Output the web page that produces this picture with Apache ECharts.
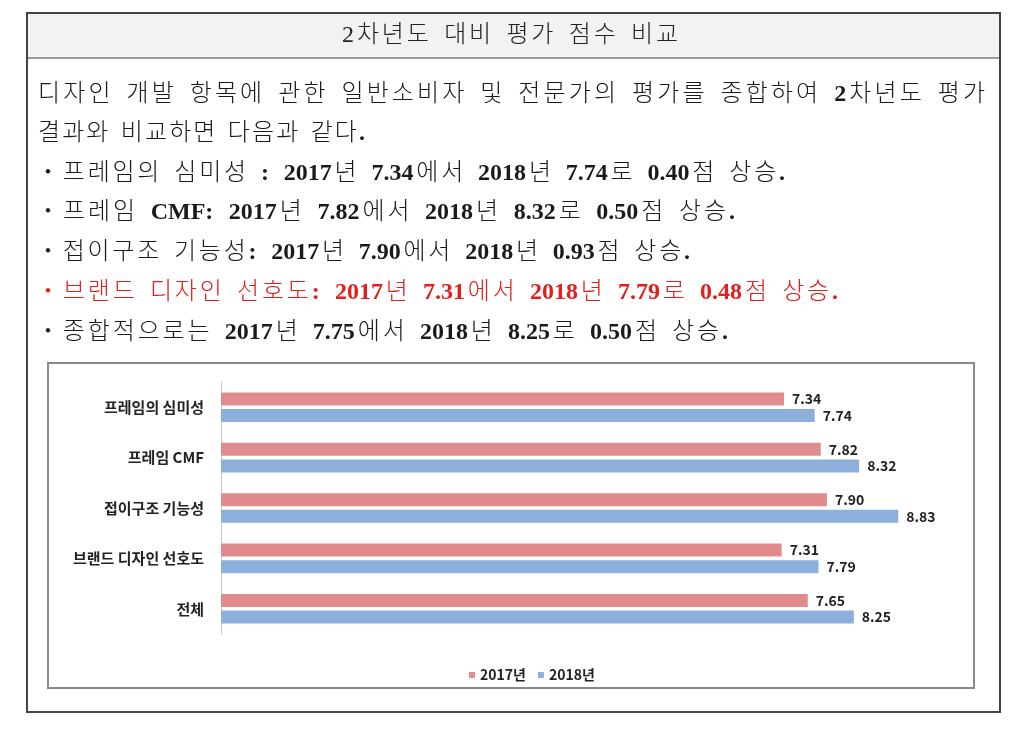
<!DOCTYPE html>
<html>
<head>
<meta charset="utf-8">
<script src="https://cdn.jsdelivr.net/npm/echarts@6/dist/echarts.min.js"></script>
<style>
html,body{margin:0;padding:0;background:#fff;}
#main{width:1023px;height:732px;}
</style>
</head>
<body>
<div id="main"></div>
<script>
// ---- data ----
var titleText = '2차년도 대비 평가 점수 비교';
var bodyLines = [
  '디자인 개발 항목에 관한 일반소비자 및 전문가의 평가를 종합하여 2차년도 평가',
  '결과와 비교하면 다음과 같다.',
  '・프레임의 심미성 : 2017년 7.34에서 2018년 7.74로 0.40점 상승.',
  '・프레임 CMF: 2017년 7.82에서 2018년 8.32로 0.50점 상승.',
  '・접이구조 기능성: 2017년 7.90에서 2018년 0.93점 상승.',
  '・브랜드 디자인 선호도: 2017년 7.31에서 2018년 7.79로 0.48점 상승.',
  '・종합적으로는 2017년 7.75에서 2018년 8.25로 0.50점 상승.'
];
var redLineIndex = 5;
var categories = ['프레임의 심미성', '프레임 CMF', '접이구조 기능성', '브랜드 디자인 선호도', '전체'];
var seriesNames = ['2017년', '2018년'];
var values2017 = [7.34, 7.82, 7.90, 7.31, 7.65];
var values2018 = [7.74, 8.32, 8.83, 7.79, 8.25];

// ---- layout ----
var docFont = '"Liberation Serif", "Noto Sans CJK KR", serif';
var chartFont = '"Noto Sans CJK KR", sans-serif';
var lineY = [95, 134, 174, 213, 253, 293, 333];
var lineStartX = [38, 38, 36, 36, 36, 36, 36];
var lineEndX = [985, 365, 785, 735, 690, 838, 728];
var bodyFontSize = 24;

var measureCtx = document.createElement('canvas').getContext('2d');
function isLatin(c) { return /[A-Za-z0-9.:]/.test(c); }
function fontFor(c, size, boldLatin) {
  if (isLatin(c)) return (boldLatin ? 'bold ' : '') + size + 'px ' + docFont;
  return '300 ' + size + 'px ' + docFont;
}
// lay out a line char by char; extra spacing mostly at word gaps
function layoutLine(out, text, x, y, size, color, targetWidth, center, boldLatin) {
  var chars = Array.from(text);
  var w = chars.map(function (c) {
    measureCtx.font = fontFor(c, size, boldLatin);
    return measureCtx.measureText(c).width;
  });
  var sum = w.reduce(function (a, b) { return a + b; }, 0);
  var weights = [];
  for (var i = 0; i < chars.length - 1; i++) {
    var a = chars[i], b = chars[i + 1];
    if (a === ' ' || b === ' ') weights.push(1.6);
    else if (isLatin(a) && isLatin(b)) weights.push(0);
    else weights.push(1);
  }
  var wsum = weights.reduce(function (p, q) { return p + q; }, 0);
  var spacing = (targetWidth - sum) / wsum;
  var cx = center ? x - targetWidth / 2 : x;
  chars.forEach(function (c, i) {
    if (c !== ' ') {
      out.push({type: 'text', x: cx, y: y, z: 3,
        style: {text: c, font: fontFor(c, size, boldLatin), fill: color, verticalAlign: 'middle', align: 'left'}});
    }
    cx += w[i] + (i < weights.length ? weights[i] * spacing : 0);
  });
}

var graphics = [
  {type: 'rect', shape: {x: 27, y: 13, width: 973, height: 45}, style: {fill: '#f2f2f2'}, z: 0},
  {type: 'line', shape: {x1: 27, y1: 58, x2: 1000, y2: 58}, style: {stroke: '#999', lineWidth: 2}, z: 1},
  {type: 'rect', shape: {x: 27, y: 13, width: 973, height: 699}, style: {fill: 'none', stroke: '#444', lineWidth: 2}, z: 2},
  {type: 'rect', shape: {x: 48, y: 363, width: 926, height: 325}, style: {fill: 'none', stroke: '#8a8a8a', lineWidth: 2}, z: 2}
];
layoutLine(graphics, titleText, 510, 36, 24, '#222', 336, true, false);
bodyLines.forEach(function (t, i) {
  var color = i === redLineIndex ? '#e0201c' : '#1a1a1a';
  layoutLine(graphics, t, lineStartX[i], lineY[i], bodyFontSize, color, lineEndX[i] - lineStartX[i], false, true);
});

var labelStyle = {show: true, position: 'right', distance: 8, fontFamily: chartFont, fontWeight: 'bold', fontSize: 14, color: '#222',
  formatter: function (p) { return p.value.toFixed(2); }};

var chart = echarts.init(document.getElementById('main'));
chart.setOption({
  backgroundColor: '#fff',
  animation: false,
  graphic: graphics,
  legend: {
    data: seriesNames,
    left: 464, top: 663,
    itemWidth: 6, itemHeight: 6, itemGap: 12,
    icon: 'rect',
    textStyle: {fontFamily: chartFont, fontWeight: 'bold', fontSize: 14, color: '#222'}
  },
  grid: {left: 221, top: 382, width: 767, height: 252, containLabel: false},
  xAxis: {
    type: 'value', min: 0, max: 10,
    show: false
  },
  yAxis: {
    type: 'category', data: categories, inverse: true,
    axisLine: {show: true, lineStyle: {color: '#c8c8c8', width: 1}},
    axisTick: {show: false},
    axisLabel: {fontFamily: chartFont, fontWeight: 'bold', fontSize: 15, color: '#222', margin: 17}
  },
  series: [
    {
      name: seriesNames[0], type: 'bar', data: values2017,
      barWidth: 13, barGap: '28%',
      itemStyle: {color: '#e08c8e'},
      label: labelStyle
    },
    {
      name: seriesNames[1], type: 'bar', data: values2018,
      barWidth: 13, barGap: '28%',
      itemStyle: {color: '#8dafdb'},
      label: labelStyle
    }
  ]
});
</script>
</body>
</html>
